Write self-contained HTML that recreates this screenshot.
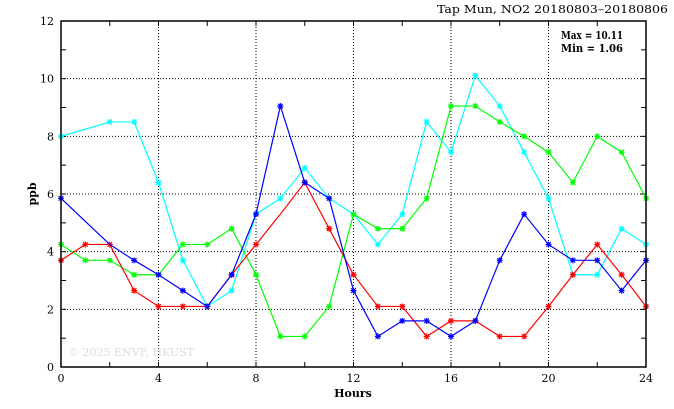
<!DOCTYPE html>
<html><head><meta charset="utf-8"><style>
html,body{margin:0;padding:0;background:#fff}
svg{display:block}
text{font-family:"DejaVu Serif","Liberation Serif",serif;font-size:11px;fill:#000}
</style></head><body>
<svg id="s" width="674" height="409" xmlns="http://www.w3.org/2000/svg">
<rect x="0" y="0" width="674" height="409" fill="#fff"/>
<g id="grid" stroke="#000" stroke-width="1" stroke-dasharray="1,2"></g>
<g id="ticks" stroke="#000" stroke-width="1"></g>
<text x="68" y="356" style="fill:#dcdcdc;font-size:11px">© 2025  ENVF, HKUST</text>
<g id="series"></g>
<rect x="61" y="21" width="585" height="346" fill="none" stroke="#000" stroke-width="1.5"/>
<text x="437" y="13" textLength="231" lengthAdjust="spacingAndGlyphs">Tap Mun, NO2 20180803–20180806</text>
<text x="561" y="39" style="font-weight:bold" textLength="62" lengthAdjust="spacingAndGlyphs">Max = 10.11</text>
<text x="561" y="52" style="font-weight:bold" textLength="62" lengthAdjust="spacingAndGlyphs">Min =  1.06</text>
<text x="353" y="397" text-anchor="middle" style="font-weight:bold">Hours</text>
<text x="36" y="194" text-anchor="middle" style="font-weight:bold" transform="rotate(-90 36 194)">ppb</text>
<g id="labels"></g>
</svg>
<script>
var NS="http://www.w3.org/2000/svg";
function X(h){return 61+24.375*h}
function Y(v){return 367-28.833*v}
function el(p,t,a,txt){var e=document.createElementNS(NS,t);for(var k in a)e.setAttribute(k,a[k]);if(txt!=null)e.textContent=txt;document.getElementById(p).appendChild(e);return e}
for(var h=4;h<24;h+=4)el("grid","line",{x1:X(h),y1:21,x2:X(h),y2:367});
for(var v=2;v<12;v+=2)el("grid","line",{x1:61,y1:Y(v),x2:646,y2:Y(v)});
for(var h=0;h<=24;h+=2){el("ticks","line",{x1:X(h),y1:367,x2:X(h),y2:362});el("ticks","line",{x1:X(h),y1:21,x2:X(h),y2:26});}
for(var v=0;v<=12;v++){el("ticks","line",{x1:61,y1:Y(v),x2:66,y2:Y(v)});el("ticks","line",{x1:646,y1:Y(v),x2:641,y2:Y(v)});}
for(var h=0;h<=24;h+=4)el("labels","text",{x:X(h),y:382,"text-anchor":"middle"},String(h));
for(var v=0;v<=12;v+=2)el("labels","text",{x:54,y:Y(v)+4,"text-anchor":"end"},String(v));
var S=[
["#00ffff",[8.0,8.25,8.5,8.5,6.4,3.7,2.1,2.65,5.3,5.85,6.9,5.85,5.3,4.25,5.3,8.5,7.45,10.11,9.05,7.45,5.85,3.2,3.2,4.8,4.25],[1]],
["#00ff00",[4.25,3.7,3.7,3.2,3.2,4.25,4.25,4.8,3.2,1.06,1.06,2.1,5.3,4.8,4.8,5.85,9.05,9.05,8.5,8.0,7.45,6.4,8.0,7.45,5.85],[]],
["#ff0000",[3.7,4.25,4.25,2.65,2.1,2.1,2.1,3.2,4.25,5.3,6.4,4.8,3.2,2.1,2.1,1.06,1.6,1.6,1.06,1.06,2.1,3.2,4.25,3.2,2.1],[9]],
["#0000ff",[5.85,5.05,4.25,3.7,3.2,2.65,2.1,3.2,5.3,9.05,6.4,5.85,2.65,1.06,1.6,1.6,1.06,1.6,3.7,5.3,4.25,3.7,3.7,2.65,3.7],[1,2]]
];
S.forEach(function(s){
 var c=s[0],d=s[1],pts=d.map(function(v,i){return X(i)+","+Y(v)}).join(" ");
 el("series","polyline",{points:pts,fill:"none",stroke:c,"stroke-width":1.2});
 d.forEach(function(v,i){if(s[2].indexOf(i)>=0)return;var x=X(i),y=Y(v),r=3;
  el("series","path",{d:"M"+(x-r)+" "+y+"H"+(x+r)+"M"+x+" "+(y-r)+"V"+(y+r)+"M"+(x-2.3)+" "+(y-2.3)+"L"+(x+2.3)+" "+(y+2.3)+"M"+(x-2.3)+" "+(y+2.3)+"L"+(x+2.3)+" "+(y-2.3),stroke:c,"stroke-width":1.2,fill:"none"});
 });
});
</script>
</body></html>
